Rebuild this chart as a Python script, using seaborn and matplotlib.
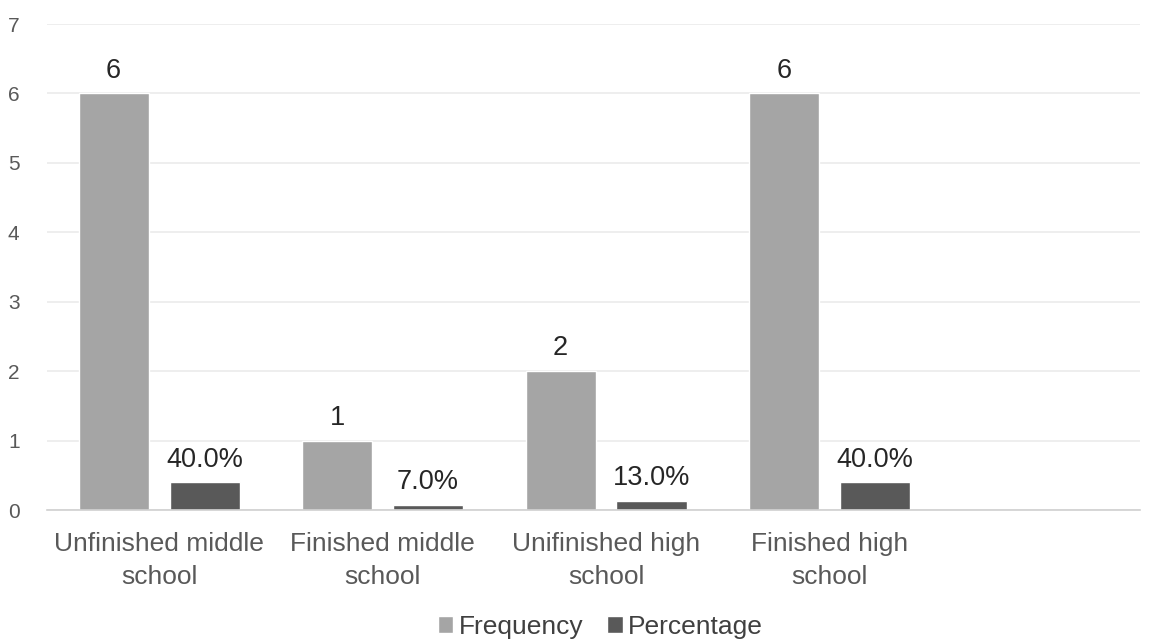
import pandas as pd
import matplotlib.pyplot as plt
import seaborn as sns

# Chart values
categories = ["Unfinished middle\nschool", "Finished middle\nschool",
              "Unifinished high\nschool", "Finished high\nschool"]
frequency = [6, 1, 2, 6]
percentage = [0.40, 0.07, 0.13, 0.40]
freq_labels = ["6", "1", "2", "6"]
pct_labels = ["40.0%", "7.0%", "13.0%", "40.0%"]
series = ["Frequency", "Percentage"]
colors = ["#a5a5a5", "#595959"]

df = pd.DataFrame({
    "category": categories * 2,
    "value": frequency + percentage,
    "series": [series[0]] * len(categories) + [series[1]] * len(categories),
})

sns.set_style("white")
plt.rcParams["font.family"] = ["Liberation Sans", "DejaVu Sans"]

fig = plt.figure(figsize=(11.54, 6.4), dpi=100)
ax = fig.add_axes([0.041, 0.203, 0.947, 0.7595])

sns.barplot(
    data=df, x="category", y="value", hue="series",
    order=categories, hue_order=series, palette=colors,
    width=0.814, gap=0.23, saturation=1, ax=ax,
)

# Value labels above the bars
for container, labels in zip(ax.containers, [freq_labels, pct_labels]):
    ax.bar_label(container, labels=labels, padding=7, fontsize=19.5, color="#262626")

ax.set_ylim(0, 7)
ax.set_xlim(-0.5, 4.39)
ax.set_yticks(range(0, 8))
ax.set_xticks(range(len(categories)), labels=categories, linespacing=1.45)
ax.set_xlabel("")
ax.set_ylabel("")

ax.yaxis.grid(True, color="#ebebeb", linewidth=1.2)
ax.set_axisbelow(True)
ax.tick_params(axis="y", length=0, pad=20, labelsize=15, labelcolor="#595959")
ax.tick_params(axis="x", length=0, pad=16, labelsize=19, labelcolor="#595959")

sns.despine(ax=ax, left=True, top=True, right=True)
ax.spines["bottom"].set_color("#d0d0d0")
ax.spines["bottom"].set_linewidth(1.2)

# Legend at the bottom centre
ax.legend(
    loc="center", bbox_to_anchor=(0.506, -0.24), ncol=2, frameon=False,
    fontsize=19, handlelength=0.6, handleheight=0.6, handletextpad=0.2,
    columnspacing=0.9, labelcolor="#404040",
)

fig.savefig("out.png", dpi=100)
